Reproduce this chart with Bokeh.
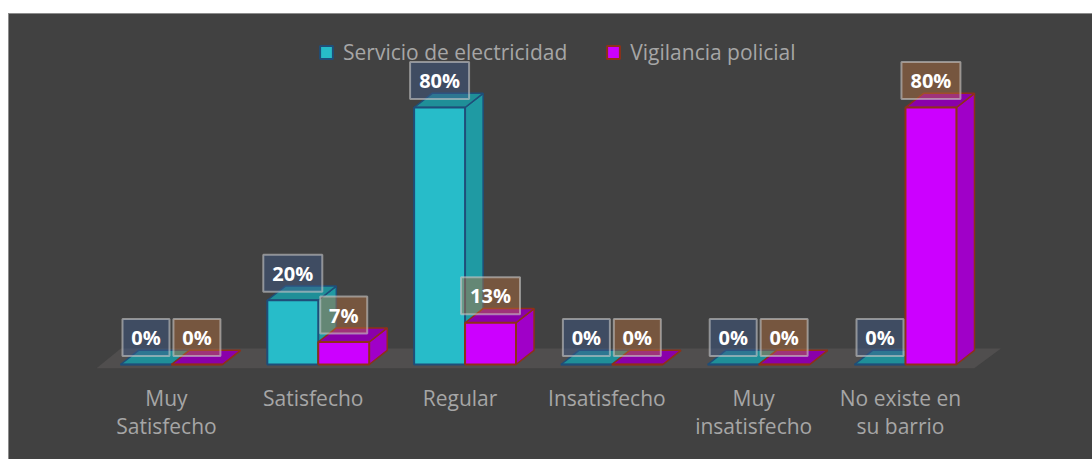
from bokeh.plotting import figure
from bokeh.models import ColumnDataSource, FixedTicker, Legend, LegendItem, Range1d
from bokeh.core.properties import value
from bokeh.embed import file_html
from bokeh.resources import INLINE

categories = ["Muy\nSatisfecho", "Satisfecho", "Regular", "Insatisfecho", "Muy\ninsatisfecho", "No existe en\nsu barrio"]
electricidad = [0, 20, 80, 0, 0, 0]
vigilancia = [0, 7, 13, 0, 0, 80]
series_names = ["Servicio de electricidad", "Vigilancia policial"]

BG = "#414141"
BAR_W = 0.347      # bar width, category units
DX, DY = 0.123, 4.4  # 3D depth, in data units
LABEL_UP = 8.4

p = figure(width=1084, height=446, output_backend="svg", toolbar_location=None,
           x_range=Range1d(-1.110, 6.274), y_range=Range1d(-3.735, 109.26),
           y_axis_location=None, min_border_left=0, min_border_right=0,
           min_border_top=0, min_border_bottom=83,
           background_fill_color=None, border_fill_color=None)
p.outline_line_color = None
p.margin = (13, 0, 0, 8)
p.styles = {"background-color": BG, "box-shadow": "inset 1px 1px 0 #8c8c8c"}
p.grid.visible = False

n = len(categories)
# floor
p.patch([-0.51, -0.345, n - 1 + 0.65, n - 1 + 0.468], [-1.2, 5.0, 5.0, -1.2],
        fill_color="#504e4e", line_color=None)


def draw(values, offset, front, top, side, edge):
    xs = [i + offset for i in range(n)]
    x0 = [x - BAR_W / 2 for x in xs]
    x1 = [x + BAR_W / 2 for x in xs]
    src = ColumnDataSource(dict(left=x0, right=x1, top=values, bottom=[0] * n))
    top_x = [[a, a + DX, b + DX, b] for a, b in zip(x0, x1)]
    top_y = [[v, v + DY, v + DY, v] for v in values]
    side_x = [[b, b + DX, b + DX, b] for b in x1]
    side_y = [[0, DY, v + DY, v] for v in values]
    p.patches(side_x, side_y, fill_color=side, line_color=edge, line_width=1.5)
    p.patches(top_x, top_y, fill_color=top, line_color=edge, line_width=1.5)
    return p.quad(left="left", right="right", top="top", bottom="bottom", source=src,
                  fill_color=front, line_color=edge, line_width=2)


offs = (-BAR_W / 2, BAR_W / 2)
r1 = draw(electricidad, offs[0], "#27bcc9", "#1f8f98", "#1f9aa3", "#1f4e79")
r2 = draw(vigilancia, offs[1], "#cc00ff", "#8a00aa", "#a000c8", "#8f3018")

for vals, off, box in ((electricidad, offs[0], "#3f5a8c"), (vigilancia, offs[1], "#b9703f")):
    xs = [i + off for i in range(n)]
    ys = [v + LABEL_UP for v in vals]
    widths = [47 if v < 10 else 59 for v in vals]
    src = ColumnDataSource(dict(x=xs, y=ys, w=widths, t=[f"{v}%" for v in vals]))
    p.rect(x="x", y="y", width="w", height=37, width_units="screen", height_units="screen",
           source=src, fill_color=box, fill_alpha=0.45,
           line_color="#c8c8c8", line_alpha=0.6, line_width=2)
    p.text(x="x", y="y", text="t", source=src, text_color="#ffffff", text_align="center",
           text_baseline="middle", text_font=value("Open Sans"), text_font_style="bold",
           text_font_size="20px")

ax = p.xaxis[0]
ticks = [round(i - 0.034, 3) for i in range(n)]
ax.ticker = FixedTicker(ticks=ticks)
ax.major_label_overrides = dict(zip(ticks, categories))
ax.axis_line_color = None
ax.major_tick_line_color = None
ax.minor_tick_line_color = None
ax.major_label_text_font = "Open Sans"
ax.major_label_text_font_size = "21px"
ax.major_label_text_color = "#a6a6a6"
ax.major_label_text_line_height = 1.0
ax.major_label_standoff = 1

legend = Legend(items=[LegendItem(label=series_names[0], renderers=[r1]),
                       LegendItem(label=series_names[1], renderers=[r2])],
                orientation="horizontal", location=(310, 310),
                glyph_width=16, glyph_height=16, label_standoff=9, spacing=38,
                padding=0, margin=0, background_fill_alpha=0, border_line_alpha=0,
                label_text_font="Open Sans", label_text_font_size="21px",
                label_text_color="#a6a6a6")
p.add_layout(legend)

open("out.html", "w").write(file_html(p, INLINE))
